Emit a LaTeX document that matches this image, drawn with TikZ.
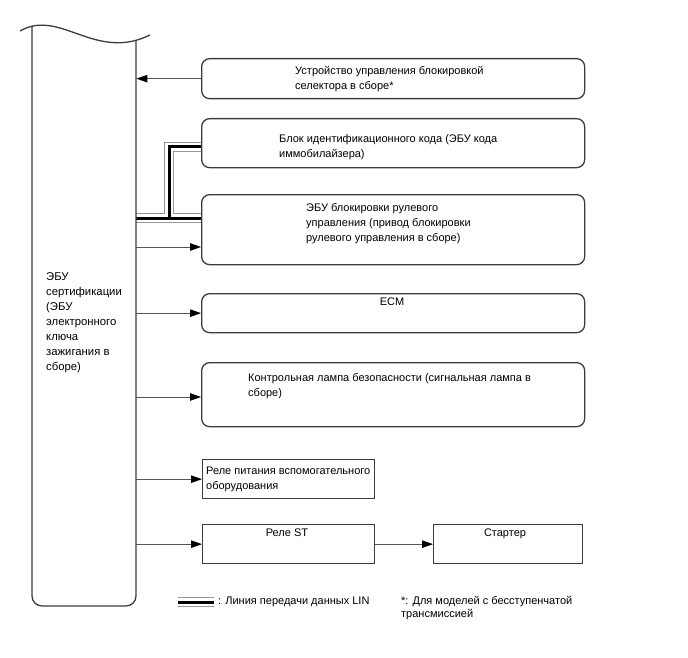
\documentclass[tikz,border=0pt]{standalone}
\usepackage{fontspec}
\setmainfont{Liberation Sans}
\usetikzlibrary{arrows.meta}
\definecolor{boxc}{RGB}{60,60,60}
\definecolor{linec}{RGB}{85,85,85}
\definecolor{lingray}{RGB}{150,150,150}
\pgfdeclarelayer{bg}
\pgfsetlayers{bg,main}
\begin{document}
\begin{tikzpicture}[x=1pt,y=-1pt,
  bx/.style={draw=boxc, line width=1.3pt, rounded corners=8pt, inner sep=0pt, anchor=north west},
  rbx/.style={draw=boxc, line width=1.3pt, inner sep=0pt, anchor=north west},
  txt/.style={inner sep=0pt, anchor=north west, align=left, font=\fontsize{11}{15}\selectfont},
  ntxt/.style={inner sep=0pt, anchor=north west, align=left, font=\fontsize{11}{13.5}\selectfont},
  ctxt/.style={inner sep=0pt, anchor=base, font=\fontsize{11}{15}\selectfont},
  arr/.style={draw=linec, line width=0.9pt, -{Triangle[length=11pt,width=7.5pt,color=black]}},
  linout/.style={draw=lingray, line width=10.5pt},
  linmid/.style={draw=white, line width=8.5pt},
  linin/.style={draw=black, line width=3pt}
]
\useasboundingbox (0,0) rectangle (688,658);

% ECU certification block (left tall box)
\node[inner sep=0pt, minimum width=104pt, minimum height=566pt, anchor=south west] (ecu) at (32,606) {};
\draw[boxc, line width=1.3pt] (20,31) .. controls (60,8) and (95,62) .. (150,35);
\draw[boxc, line width=1.3pt, rounded corners=10pt] (32,26) -- (32,606) -- (136,606) -- (136,41);
\node[txt, font=\fontsize{11.3}{15}\selectfont] (tecu) at (46,269.5) {\strut ЭБУ\\сертификации\\(ЭБУ\\электронного\\ключа\\зажигания в\\сборе)};

% boxes
\node[bx, minimum width=383pt, minimum height=40pt] (b1) at (201,58) {};
\node[bx, minimum width=383pt, minimum height=49pt] (b2) at (201,118) {};
\node[bx, minimum width=383pt, minimum height=70pt] (b3) at (201,194) {};
\node[bx, minimum width=383pt, minimum height=39pt] (b4) at (201,293) {};
\node[bx, minimum width=383pt, minimum height=64pt] (b5) at (201,362) {};
\node[rbx, minimum width=172pt, minimum height=39pt] (b6) at (202,459) {};
\node[rbx, minimum width=172pt, minimum height=39pt] (b7) at (202,524) {};
\node[rbx, minimum width=149pt, minimum height=39pt] (b8) at (433,524) {};

% texts
\node[txt] (t1) at (295,63.5) {\strut Устройство управления блокировкой\\селектора в сборе*};
\node[txt] (t2) at (279,131.5) {\strut Блок идентификационного кода (ЭБУ кода\\иммобилайзера)};
\node[txt] (t3) at (306,200.5) {\strut ЭБУ блокировки рулевого\\управления (привод блокировки\\рулевого управления в сборе)};
\node[ctxt] (t4) at (392,305) {ECM};
\node[txt] (t5) at (248,370.5) {\strut Контрольная лампа безопасности (сигнальная лампа в\\сборе)};
\node[txt] (t6) at (206,463.5) {\strut Реле питания вспомогательного\\оборудования};
\node[ctxt] (t7) at (287,536) {Реле ST};
\node[ctxt] (t8) at (505,536) {Стартер};

% arrows
\coordinate (a3) at (136,247);
\coordinate (a5) at (136,397);
\draw[arr] (b1.west) -- (b1.west -| ecu.east);
\draw[arr] (a3) -- (a3 -| b3.west);
\draw[arr] (b4.west -| ecu.east) -- (b4.west);
\draw[arr] (a5) -- (a5 -| b5.west);
\draw[arr] (b6.west -| ecu.east) -- (b6.west);
\draw[arr] (b7.west -| ecu.east) -- (b7.west);
\draw[arr] (b7.east) -- (b8.west);

% LIN lines
\coordinate (l1) at (136,218);
\coordinate (lj) at (169,218);
\coordinate (lk) at (169,147);
\coordinate (lg1) at (178,602);
\coordinate (lg2) at (214,602);
\begin{pgfonlayer}{bg}
\draw[linout] (l1) -- (l1 -| b3.west);
\draw[linout] (lj) -- (lk) -- (lk -| b2.west);
\draw[linout] (lg1) -- (lg2);
\draw[linmid] (l1) -- (l1 -| b3.west);
\draw[linmid] (lj) -- (lk) -- (lk -| b2.west);
\draw[linmid] (lg1) -- (lg2);
\draw[linin] (l1) -- (l1 -| b3.west);
\draw[linin] (lj) -- (lk) -- (lk -| b2.west);
\draw[linin] (lg1) -- (lg2);
\end{pgfonlayer}

% legend
\node[inner sep=0pt, anchor=base west, font=\fontsize{11}{15}\selectfont] (leg) at (218,604) {: Линия передачи данных LIN};
\node[ntxt] (note) at (401,594.5) {\strut *: Для моделей с бесступенчатой\\трансмиссией};
\end{tikzpicture}
\end{document}
